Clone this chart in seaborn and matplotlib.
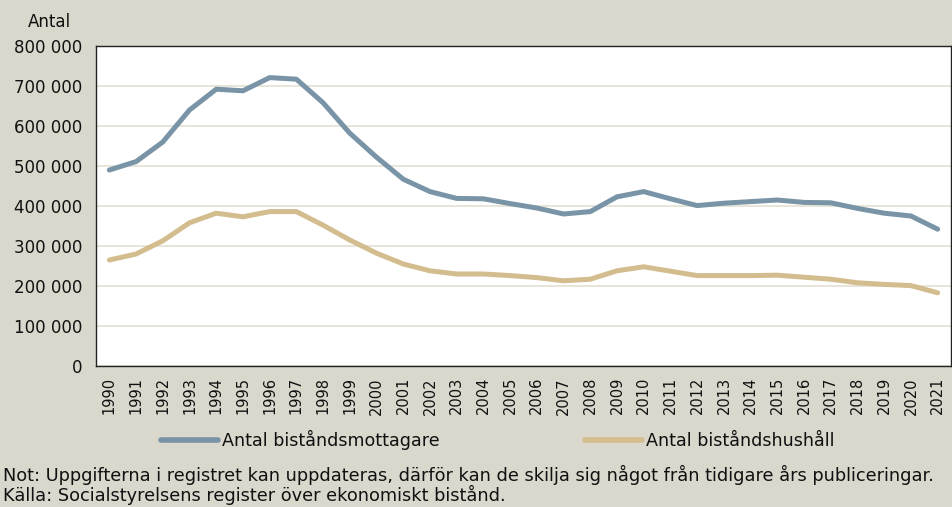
import numpy as np
import pandas as pd
import matplotlib
matplotlib.use("Agg")
import matplotlib.pyplot as plt
from matplotlib.ticker import FuncFormatter, MultipleLocator
import seaborn as sns

# ── Data ──────────────────────────────────────────────────────
years = list(range(1990, 2022))
mottagare = [490000, 511000, 560000, 640000, 692000, 688000, 721000, 717000,
             658000, 582000, 522000, 467000, 436000, 419000, 418000, 406000,
             395000, 380000, 386000, 423000, 436000, 418000, 401000, 407000,
             411000, 415000, 409000, 408000, 394000, 382000, 375000, 342000]
hushall = [265000, 280000, 313000, 358000, 382000, 373000, 386000, 386000,
           352000, 315000, 282000, 255000, 238000, 230000, 230000, 226000,
           221000, 213000, 217000, 238000, 248000, 237000, 226000, 226000,
           226000, 227000, 222000, 217000, 208000, 204000, 201000, 183000]
series_names = ["Antal biståndsmottagare", "Antal biståndshushåll"]
colors = ["#7894a6", "#d3bc8e"]

BG = "#dad7cc"
GRID = "#e3dfd3"

sns.set_theme(style="white")
plt.rcParams["font.family"] = ["DejaVu Sans"]
plt.rcParams["text.color"] = "#111111"

df = pd.DataFrame({"År": years * 2,
                   "Antal": mottagare + hushall,
                   "Serie": [series_names[0]] * len(years) + [series_names[1]] * len(years)})

fig = plt.figure(figsize=(9.53, 5.07), dpi=100, facecolor=BG)
ax = fig.add_axes([96 / 953, 1 - 366 / 507, 855 / 953, 320 / 507])
ax.set_facecolor("white")

sns.lineplot(data=df, x="År", y="Antal", hue="Serie", palette=colors,
             linewidth=3.6, ax=ax, legend=False, solid_capstyle="round")

ax.set_xlim(1989.5, 2021.5)
ax.set_ylim(0, 800000)
ax.yaxis.set_major_locator(MultipleLocator(100000))
ax.yaxis.set_major_formatter(FuncFormatter(lambda v, p: f"{int(v):,}".replace(",", " ")))
ax.grid(axis="y", color=GRID, linewidth=1.2)
ax.set_axisbelow(True)
ax.set_xticks(years)
ax.set_xticklabels([str(y) for y in years], rotation=90, fontsize=10.5)
ax.set_xticks(np.arange(1990.5, 2021, 1.0), minor=True)
ax.tick_params(axis="x", which="major", length=0, pad=8, labelcolor="#111111")
ax.tick_params(axis="x", which="minor", length=5, direction="in", width=1, color="#333333")
ax.tick_params(axis="y", labelsize=12, length=0, pad=10, labelcolor="#111111")
for s in ax.spines.values():
    s.set_color("#222222")
    s.set_linewidth(1)
ax.set_xlabel("")
ax.set_ylabel("")

fig.text(28 / 953, 1 - 22 / 507, "Antal", fontsize=12, va="center", ha="left")

handles = [plt.Line2D([], [], color=c, linewidth=4, solid_capstyle="round") for c in colors]
fig.legend(handles, series_names, loc="center", bbox_to_anchor=(0.522, 1 - 440 / 507),
           ncol=2, frameon=False, fontsize=12.6, handlelength=3.3, handletextpad=0.2,
           columnspacing=8.3)

fig.text(3 / 953, 1 - 475 / 507,
         "Not: Uppgifterna i registret kan uppdateras, därför kan de skilja sig något från tidigare års publiceringar.",
         fontsize=12.8, va="center", ha="left")
fig.text(3 / 953, 1 - 495 / 507,
         "Källa: Socialstyrelsens register över ekonomiskt bistånd.",
         fontsize=12.8, va="center", ha="left")

fig.savefig("out.png", dpi=100, facecolor=BG)
